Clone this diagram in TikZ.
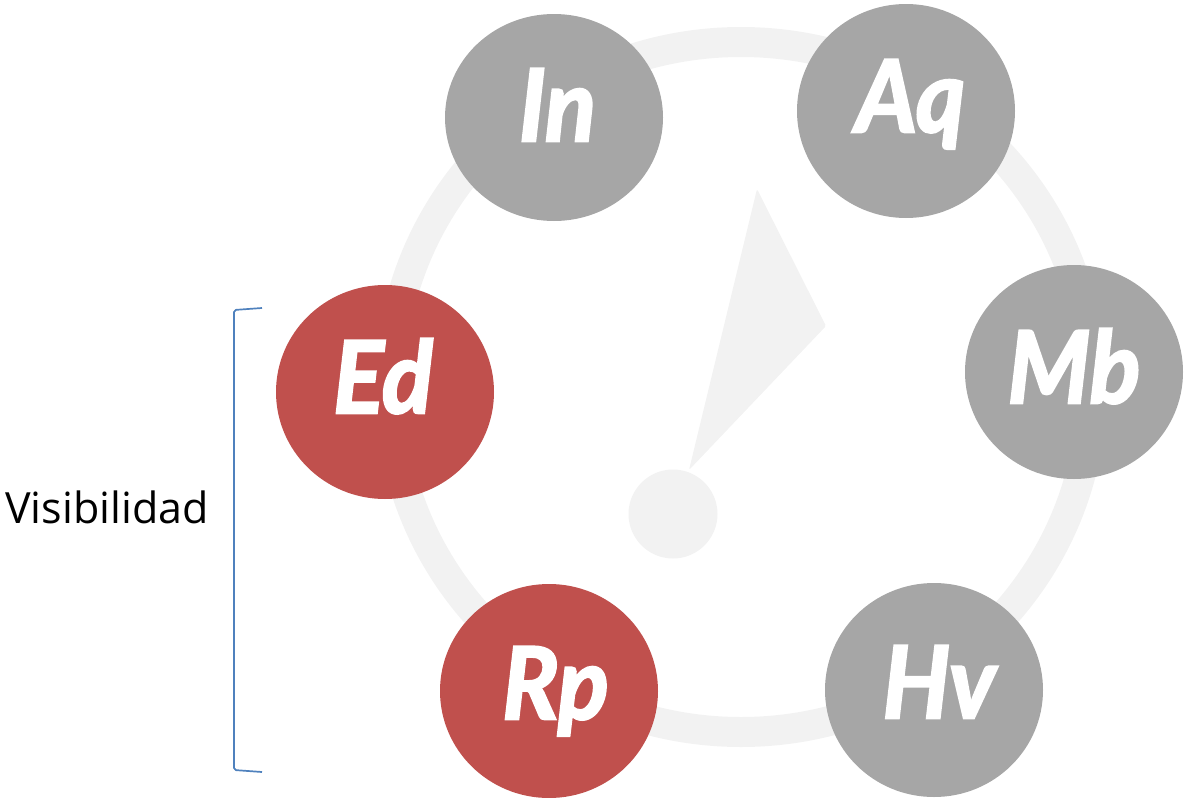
\documentclass[tikz,border=0pt]{standalone}
\usepackage{fontspec}
\setmainfont{Open Sans}
\newfontfamily\discfont[FakeStretch=0.94,FakeBold=2.5]{Lato}
\usetikzlibrary{shapes.geometric}
\definecolor{ringgray}{HTML}{F2F2F2}
\definecolor{nodegray}{HTML}{A6A6A6}
\definecolor{nodered}{HTML}{C0504D}
\definecolor{brace}{HTML}{4F81BD}
\newcommand{\disctext}[3]{\raisebox{-#1pt}{\kern#2pt #3}}
\tikzset{
  x=1pt,y=-1pt,
  disc/.style={ellipse,minimum width=218pt,minimum height=214pt,inner sep=0pt,text=white,text height=0pt,text depth=0pt,font=\fontsize{100}{100}\selectfont\discfont\bfseries\itshape},
  graydisc/.style={disc,fill=nodegray},
  reddisc/.style={disc,fill=nodered},
}
\begin{document}
\begin{tikzpicture}
\useasboundingbox (0,0) rectangle (1184,798);
\draw[ringgray,line width=30pt] (741,387) ellipse (351 and 345);
\fill[ringgray,rounded corners=1.5pt] (757,189) -- (826,326) -- (689,470) -- cycle;
\node[circle,fill=ringgray,minimum size=89pt,inner sep=0pt] (dot) at (673,514) {};
\node[graydisc,minimum height=207pt] (In) at (554,117.5) {\disctext{23.5}{7}{In}};
\node[graydisc] (Aq) at (906,111) {\disctext{21}{9}{Aq}};
\node[graydisc] (Mb) at (1074,372) {\disctext{31}{0}{Mb}};
\node[graydisc] (Hv) at (934,690) {\disctext{28}{10}{Hv}};
\node[reddisc] (Ed) at (385,392) {\disctext{21}{-4}{Ed}};
\node[reddisc] (Rp) at (549,691) {\disctext{28}{13}{Rp}};
\draw[brace,line width=1.7pt,rounded corners=2pt] (262,308) -- (234,310) -- (234,770) -- (262,772);
\node[anchor=base west,inner sep=0pt,font=\fontsize{43}{43}\selectfont] (vis) at (5,523) {Visibilidad};
\end{tikzpicture}
\end{document}
